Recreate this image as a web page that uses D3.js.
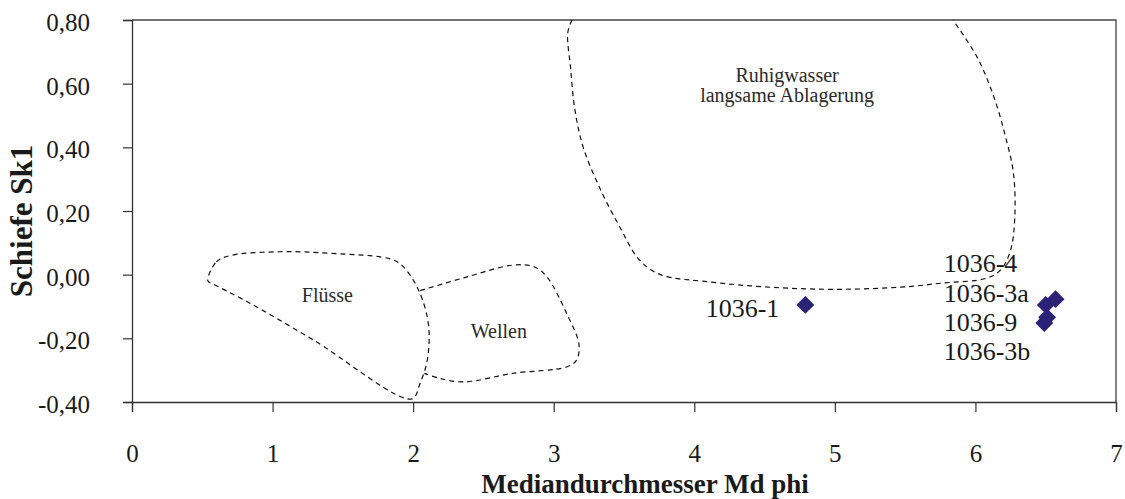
<!DOCTYPE html>
<html>
<head>
<meta charset="utf-8">
<script src="https://cdn.jsdelivr.net/npm/d3@7"></script>
<style>
    body { margin: 0; background: #fff; }
    svg { display: block; }
    text { font-family: "Liberation Serif", "Times New Roman", serif; }
</style>
</head>
<body>
<div id="chart"></div>
<script>
// samples: median diameter (phi) and skewness Sk1
var sampleNames = ["1036-1", "1036-4", "1036-3a", "1036-9", "1036-3b"];
var medianPhi = [4.79, 6.57, 6.50, 6.51, 6.49];
var skewness = [-0.095, -0.077, -0.095, -0.134, -0.152];

var xTickValues = [0, 1, 2, 3, 4, 5, 6, 7];
var yTickValues = [-0.4, -0.2, 0, 0.2, 0.4, 0.6, 0.8];

// field outlines, in [phi, Sk1]
var fluesseOutline = [[0.54, -0.02], [0.60, 0.04], [0.70, 0.06], [1.05, 0.072], [1.41, 0.067],
    [1.86, 0.046], [1.95, 0.015], [2.05, -0.06], [2.11, -0.16], [2.10, -0.27], [2.05, -0.34],
    [1.99, -0.39], [1.29, -0.205], [0.82, -0.085], [0.58, -0.03]];
var wellenOutline = [[2.05, -0.05], [2.36, -0.01], [2.71, 0.03], [2.86, 0.025], [2.95, -0.006],
    [3.09, -0.12], [3.18, -0.22], [3.16, -0.27], [3.09, -0.29], [2.71, -0.31], [2.36, -0.337],
    [2.19, -0.326], [2.08, -0.31]];
var ruhigOutline = [[3.13, 0.80], [3.10, 0.76], [3.12, 0.65], [3.15, 0.52], [3.21, 0.40],
    [3.33, 0.27], [3.47, 0.15], [3.61, 0.046], [3.76, 0.0], [4.09, -0.022], [4.56, -0.04],
    [5.04, -0.046], [5.51, -0.038], [5.75, -0.027], [6.08, -0.011], [6.18, 0.015], [6.25, 0.077],
    [6.28, 0.18], [6.27, 0.32], [6.21, 0.44], [6.13, 0.56], [6.01, 0.685], [5.84, 0.80]];

var fieldNames = [["Flüsse"], ["Wellen"], ["Ruhigwasser", "langsame Ablagerung"]];
var fieldLabelAt = [[1.39, -0.086], [2.61, -0.199], [4.66, 0.606]];

var width = 1125, height = 499;
var plot = { left: 132, right: 1116, top: 20, bottom: 402 };

var de = d3.formatLocale({ decimal: ",", thousands: ".", grouping: [3], currency: ["", " €"], minus: "-" });
var fmt = de.format(".2f");

var svg = d3.select("#chart").append("svg")
    .attr("width", width).attr("height", height);

var x = d3.scaleLinear().domain([0, 7]).range([plot.left, plot.right]);
var y = d3.scaleLinear().domain([-0.4, 0.8]).range([plot.bottom, plot.top]);

// frame (top and right)
svg.append("path")
    .attr("d", "M" + plot.left + "," + plot.top + "H" + plot.right + "V" + plot.bottom)
    .attr("fill", "none").attr("stroke", "#444").attr("stroke-width", 1.3);

var xAxis = svg.append("g")
    .attr("transform", "translate(0," + plot.bottom + ")")
    .call(d3.axisBottom(x).tickValues(xTickValues).tickSizeOuter(0).tickSize(10).tickPadding(32).tickFormat(d3.format("d")));
var yAxis = svg.append("g")
    .attr("transform", "translate(" + plot.left + ",0)")
    .call(d3.axisLeft(y).tickValues(yTickValues).tickSizeOuter(0).tickSize(9).tickPadding(33).tickFormat(fmt));

[xAxis, yAxis].forEach(function (a) {
    a.select(".domain").attr("stroke", "#333").attr("stroke-width", 1.3);
    a.selectAll(".tick line").attr("stroke", "#333").attr("stroke-width", 1.2);
    a.selectAll(".tick text")
        .attr("fill", "#1a1a1a")
        .style("font-family", "'Liberation Serif', serif")
        .style("font-size", "25px");
});
yAxis.selectAll(".tick text").attr("dy", "0.42em");

// axis titles
svg.append("text")
    .attr("x", 645).attr("y", 493)
    .attr("text-anchor", "middle")
    .style("font-size", "27px").style("font-weight", "bold").attr("fill", "#1a1a1a")
    .text("Mediandurchmesser Md phi");
svg.append("text")
    .attr("transform", "translate(32,221) rotate(-90)")
    .attr("text-anchor", "middle")
    .style("font-size", "31px").style("font-weight", "bold").attr("fill", "#1a1a1a")
    .text("Schiefe Sk1");

// dashed field outlines
var line = d3.line().x(function (d) { return x(d[0]); }).y(function (d) { return y(d[1]); });
var outlines = svg.append("g").attr("fill", "none").attr("stroke", "#111")
    .attr("stroke-width", 1.2).attr("stroke-dasharray", "5,4");
outlines.append("path").attr("d", line.curve(d3.curveCatmullRomClosed.alpha(0.5))(fluesseOutline));
outlines.append("path").attr("d", line.curve(d3.curveCatmullRom.alpha(0.5))(wellenOutline));
outlines.append("path").attr("d", line.curve(d3.curveCatmullRom.alpha(0.5))(ruhigOutline));

// field labels
fieldNames.forEach(function (lines, i) {
    var t = svg.append("text")
        .attr("x", x(fieldLabelAt[i][0])).attr("y", y(fieldLabelAt[i][1]))
        .attr("text-anchor", "middle")
        .style("font-size", "20px").attr("fill", "#2a2a2a");
    lines.forEach(function (s, j) {
        t.append("tspan").attr("x", x(fieldLabelAt[i][0])).attr("dy", j ? 20 : 0).text(s);
    });
});

// sample points
var samples = sampleNames.map(function (n, i) { return { name: n, phi: medianPhi[i], sk: skewness[i] }; });
var diamond = d3.symbol(d3.symbolSquare, 160);
svg.append("g").selectAll("path.pt")
    .data(samples)
    .enter()
    .append("path")
    .attr("class", "pt")
    .attr("d", diamond)
    .attr("fill", "#2b2177")
    .attr("transform", function (d) {
        return "translate(" + x(d.phi) + "," + y(d.sk) + ") rotate(45)";
    });

// sample labels: first beside its point, the cluster stacked on the left
var labels = svg.append("g").style("font-size", "26px").attr("fill", "#1a1a1a");
labels.append("text")
    .attr("x", x(samples[0].phi) - 26).attr("y", y(samples[0].sk) + 12)
    .attr("text-anchor", "end")
    .text(samples[0].name);
var cluster = samples.slice(1);
cluster.forEach(function (d, i) {
    labels.append("text")
        .attr("x", x(6.5) - 102)
        .attr("y", y(cluster[0].sk) - 27 + i * 29.4)
        .text(d.name);
});
</script>
</body>
</html>
